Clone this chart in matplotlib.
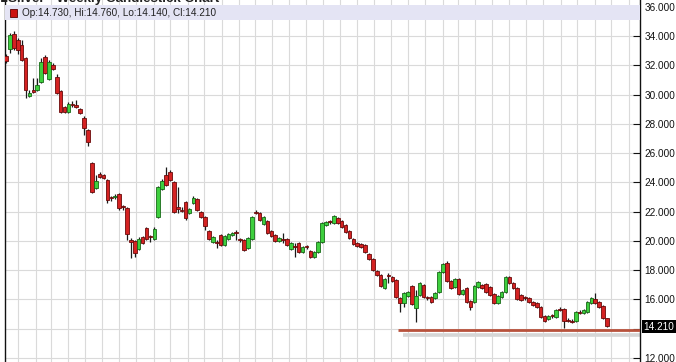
import matplotlib
matplotlib.use("Agg")
import matplotlib.pyplot as plt
import numpy as np
import pandas as pd
from matplotlib.patches import Rectangle

# ---------------- data (weekly OHLC) ----------------
opens = [32.65, 33.13, 34.15, 33.74, 33.40, 32.51, 29.91, 30.32, 30.32, 30.87,
         32.58, 31.08, 32.03, 31.21, 30.26, 29.16, 28.82, 29.33, 29.30, 29.03,
         28.41, 27.59, 25.33, 23.62, 24.58, 24.51, 24.17, 22.97, 23.00, 23.21,
         22.35, 22.26, 20.07, 20.00, 19.45, 20.27, 20.89, 20.30, 20.14, 21.64,
         23.56, 24.51, 24.72, 24.03, 22.30, 22.15, 22.67, 21.91, 22.60, 22.87,
         21.98, 21.64, 20.68, 19.93, 19.90, 20.41, 19.73, 20.14, 20.41, 20.58,
         20.10, 20.07, 19.52, 20.14, 22.00, 21.91, 21.16, 21.37, 20.68, 20.41,
         20.00, 20.10, 20.14, 19.45, 19.62, 19.86, 19.25, 19.62, 19.32, 18.91,
         19.25, 19.93, 21.09, 21.32, 21.23, 21.57, 21.37, 21.09, 20.68, 20.14,
         19.86, 19.79, 19.73, 19.11, 18.77, 17.95, 17.67, 16.79, 17.70, 17.54,
         17.33, 16.10, 15.76, 16.24, 16.92, 15.42, 16.31, 16.99, 16.13, 16.17,
         16.10, 16.51, 17.88, 18.49, 17.26, 16.85, 17.40, 16.38, 16.79, 15.90,
         15.83, 16.85, 16.99, 17.06, 16.85, 16.38, 15.76, 16.17, 16.51, 17.54,
         17.13, 16.79, 16.31, 16.13, 16.10, 15.83, 15.76, 15.49, 14.87, 14.66,
         14.90, 14.80, 15.37, 15.35, 14.62, 14.55, 14.53, 15.16, 15.08, 15.14,
         15.76, 16.03, 15.83, 15.56, 14.73]
highs = [32.79, 34.22, 34.36, 33.88, 33.74, 32.60, 30.32, 31.14, 31.14, 32.51,
         32.72, 32.38, 32.17, 31.42, 30.32, 29.23, 29.50, 29.57, 29.64, 29.10,
         28.55, 27.66, 25.40, 24.51, 24.72, 24.60, 24.24, 23.08, 23.20, 23.28,
         22.46, 22.30, 20.20, 20.07, 20.27, 20.34, 20.96, 20.41, 20.96, 23.76,
         24.24, 25.06, 24.85, 24.10, 23.69, 22.30, 22.74, 22.26, 23.08, 22.94,
         22.05, 21.71, 20.75, 20.34, 20.07, 20.48, 20.41, 20.55, 20.62, 20.75,
         20.20, 20.14, 20.27, 21.71, 22.12, 21.98, 21.71, 21.44, 20.75, 20.48,
         20.27, 20.55, 20.20, 19.93, 19.86, 19.93, 19.66, 19.73, 19.38, 19.32,
         20.00, 21.30, 21.37, 21.44, 21.78, 21.64, 21.44, 21.16, 20.75, 20.20,
         19.93, 19.86, 19.79, 19.18, 18.84, 18.02, 17.74, 17.47, 17.81, 17.60,
         17.40, 16.17, 16.51, 16.58, 17.00, 16.65, 17.20, 17.06, 16.24, 16.24,
         16.51, 17.95, 18.49, 18.63, 17.33, 17.47, 17.47, 16.72, 16.85, 15.96,
         16.99, 17.26, 17.06, 17.13, 16.92, 16.44, 16.31, 16.58, 17.60, 17.60,
         17.20, 16.85, 16.38, 16.24, 16.17, 15.90, 15.83, 15.56, 14.94, 14.94,
         15.00, 15.35, 15.49, 15.42, 14.73, 14.66, 15.21, 15.28, 15.35, 15.90,
         16.17, 16.44, 15.90, 15.62, 14.76]
lows = [32.17, 32.85, 33.06, 32.79, 32.30, 29.78, 29.85, 30.12, 30.25, 30.80,
        31.42, 31.01, 31.69, 30.05, 28.75, 28.75, 28.75, 29.16, 29.09, 28.68,
        27.25, 26.49, 23.28, 23.56, 24.31, 24.24, 22.60, 22.74, 22.85, 22.12,
        22.12, 20.07, 18.84, 18.90, 19.38, 19.79, 20.07, 19.93, 20.07, 21.57,
        23.49, 23.76, 24.10, 21.91, 21.91, 21.98, 21.44, 21.84, 22.53, 22.05,
        21.57, 20.75, 20.07, 19.86, 19.52, 19.66, 19.66, 20.07, 20.34, 20.07,
        19.93, 19.32, 19.45, 20.07, 21.85, 21.37, 21.09, 20.48, 20.27, 19.93,
        19.93, 19.86, 19.66, 19.38, 18.91, 19.18, 19.18, 19.45, 18.84, 18.84,
        19.18, 19.86, 21.02, 21.16, 21.16, 21.16, 20.89, 20.55, 20.14, 19.73,
        19.59, 19.52, 19.18, 18.70, 17.95, 17.60, 16.85, 16.72, 17.13, 17.20,
        16.10, 15.14, 15.49, 16.17, 15.62, 14.46, 16.24, 16.10, 15.96, 15.76,
        16.03, 16.44, 17.81, 17.20, 16.72, 16.79, 16.31, 16.31, 15.76, 15.28,
        15.76, 16.79, 16.72, 16.44, 16.24, 15.69, 15.69, 16.10, 16.44, 17.06,
        16.72, 15.96, 15.90, 15.96, 15.76, 15.56, 15.42, 14.73, 14.46, 14.59,
        14.73, 14.73, 15.21, 14.05, 14.46, 14.39, 14.46, 15.01, 15.01, 15.08,
        15.69, 15.69, 15.42, 14.66, 14.14]
closes = [32.31, 34.09, 33.20, 33.06, 32.38, 30.32, 30.12, 30.19, 30.67, 32.24,
          31.49, 32.24, 31.76, 30.12, 28.82, 28.82, 29.37, 29.28, 29.16, 28.75,
          27.73, 26.77, 23.35, 24.10, 24.38, 24.31, 22.80, 22.92, 23.05, 22.26,
          22.30, 20.48, 19.90, 19.18, 20.14, 19.86, 20.14, 20.25, 20.82, 23.69,
          24.10, 23.83, 24.17, 21.98, 22.22, 22.08, 21.57, 22.19, 22.94, 22.12,
          21.64, 21.02, 20.14, 20.27, 19.84, 19.73, 20.34, 20.48, 20.55, 20.52,
          20.04, 19.38, 20.20, 21.64, 21.95, 21.44, 21.64, 20.55, 20.34, 20.00,
          20.20, 20.05, 19.73, 19.86, 19.57, 19.25, 19.59, 19.57, 18.91, 19.25,
          19.93, 21.23, 21.30, 21.28, 21.71, 21.23, 20.96, 20.61, 20.20, 19.79,
          19.66, 19.59, 19.25, 18.77, 18.02, 17.67, 16.92, 17.40, 17.64, 17.26,
          16.17, 15.76, 16.44, 16.51, 15.69, 16.24, 17.13, 16.17, 16.08, 15.83,
          16.44, 17.88, 18.43, 17.26, 16.79, 17.40, 16.38, 16.65, 15.83, 15.49,
          16.92, 17.20, 16.79, 16.51, 16.31, 15.76, 16.24, 16.51, 17.54, 17.13,
          16.79, 16.03, 15.96, 16.08, 15.83, 15.62, 15.49, 14.80, 14.53, 14.87,
          14.85, 15.28, 15.32, 14.53, 14.57, 14.50, 15.14, 15.12, 15.28, 15.83,
          16.10, 15.76, 15.49, 14.73, 14.21]
y_ticks = [12, 14, 16, 18, 20, 22, 24, 26, 28, 30, 32, 34, 36]
support_level = 13.88
last_label = "14.210"
header_text = "Op:14.730, Hi:14.760, Lo:14.140, Cl:14.210"
title_text = "Silver - Weekly Candlestick Chart"
first_week = "2012-12-10"

# ---------------- figure ----------------
W, H = 676, 362
fig = plt.figure(figsize=(W / 100, H / 100), dpi=100)
fig.patch.set_facecolor("white")
ax_left, ax_right = 4.5, 640.0
ax = fig.add_axes([ax_left / W, 0, (ax_right - ax_left) / W, 1])

n = len(opens)
step = 3.9026  # px per week
x_lo = (ax_left - 6) / step
x_hi = (ax_right - 6) / step
ax.set_xlim(x_lo, x_hi)
y_top, y_bot = 36.478, 36.478 - 0.068376 * H
ax.set_ylim(y_bot, y_top)

# grid
for t in y_ticks:
    ax.axhline(t, color="#DADADA", lw=0.8, zorder=0)
dates = pd.date_range(first_week, periods=n, freq="7D")
d0 = dates[0]
mstarts = pd.date_range(d0, dates[-1] + pd.Timedelta(days=60), freq="MS")
for m in mstarts:
    xi = (m - d0).days / 7.0
    if x_lo < xi < x_hi:
        ax.axvline(xi, color="#DADADA", lw=0.8, zorder=0)

# candles
up_face, up_edge = "#3ECF3E", "#176A17"
dn_face, dn_edge = "#D42222", "#6A0A0A"
bw = 0.92
for i in range(n):
    o, h, l, c = opens[i], highs[i], lows[i], closes[i]
    ax.plot([i, i], [l, h], color="#1A1A1A", lw=0.9, zorder=2, solid_capstyle="butt")
    lo_b, hi_b = min(o, c), max(o, c)
    if hi_b - lo_b < 0.07:
        mid = (hi_b + lo_b) / 2
        lo_b, hi_b = mid - 0.035, mid + 0.035
    up = c >= o
    ax.add_patch(Rectangle((i - bw / 2, lo_b), bw, hi_b - lo_b,
                           facecolor=up_face if up else dn_face,
                           edgecolor=up_edge if up else dn_edge,
                           lw=0.6, zorder=3))

# support line with soft shadow
sx = (398 - 6) / step
ax.plot([sx + 1.3, x_hi], [support_level - 0.34, support_level - 0.34],
        color="#D6D6D6", lw=2.6, zorder=1, solid_capstyle="butt")
ax.plot([sx, x_hi], [support_level, support_level], color="#B8523C", lw=2.0,
        zorder=4, solid_capstyle="butt")

# header band
band_top = 1 - 5 / H
band_bot = 1 - 20 / H
ax.add_patch(Rectangle((0, band_bot), 1, band_top - band_bot, transform=ax.transAxes,
                       facecolor="#E4E4F4", edgecolor="none", zorder=5))
fig.patches.append(Rectangle((10 / W, 1 - 17 / H), 7 / W, 8 / H,
                             transform=fig.transFigure, facecolor="#CC1010",
                             edgecolor="#5A0000", lw=0.6, zorder=6))
fig.text(22 / W, 1 - 13 / H, header_text, fontsize=7.2, family="Liberation Sans",
         color="#222222", va="center", ha="left", zorder=7)

# title (cut off at top of the picture)
fig.text(8 / W, 1 - 1.8 / H, title_text, fontsize=9.6, family="Liberation Sans",
         fontweight="bold", color="#222222", va="baseline", ha="left")
fig.text(0 / W, 1 - 1.8 / H, "\u25aa", fontsize=9, color="#222222", va="baseline", ha="left")

# axes / ticks
ax.yaxis.tick_right()
ax.set_yticks(y_ticks)
ax.set_yticklabels(["" if t == 14 else f"{t:.3f}" for t in y_ticks],
                   fontsize=7.2, family="Liberation Sans", color="#111111")
ax.tick_params(axis="y", direction="in", length=5, width=0.8, pad=3, colors="#111111")
ax.set_xticks([])
for s in ["top", "bottom"]:
    ax.spines[s].set_visible(False)
for s in ["left", "right"]:
    ax.spines[s].set_color("#111111")
    ax.spines[s].set_linewidth(1.0)
ax.set_facecolor("white")

# last price label
last_y = 1 - 326.5 / H
fig.patches.append(Rectangle((641.5 / W, last_y - 6.5 / H), 35 / W, 13 / H,
                             transform=fig.transFigure, facecolor="black",
                             edgecolor="none", zorder=8))
fig.text(643 / W, last_y, last_label, fontsize=7.2, family="Liberation Sans",
         color="white", va="center", ha="left", zorder=9)

fig.savefig("out.png", dpi=100)
